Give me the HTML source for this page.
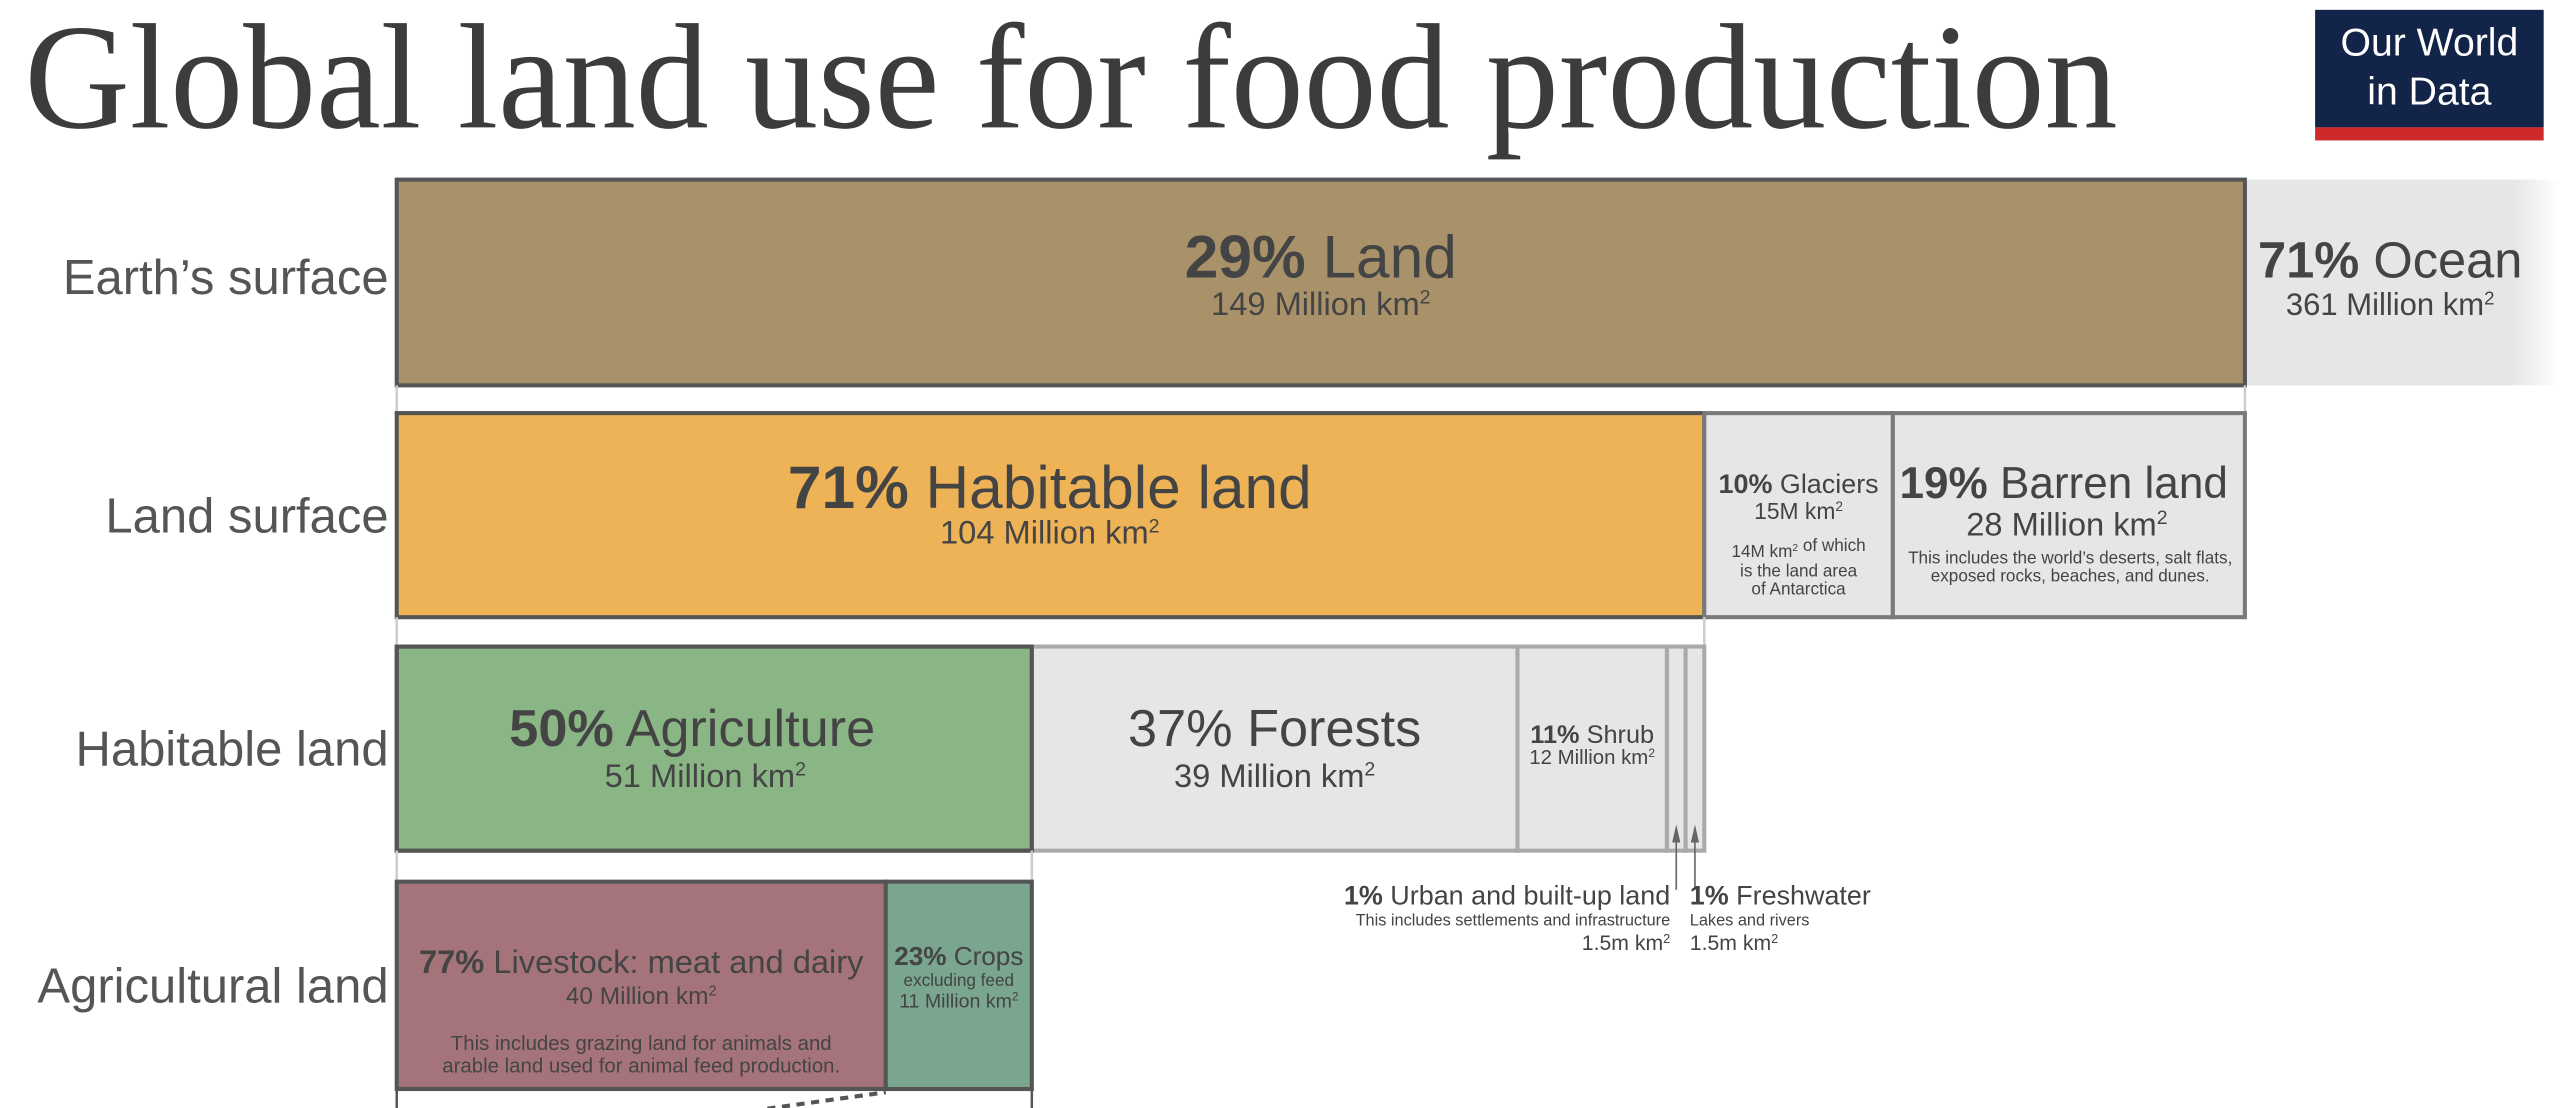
<!DOCTYPE html>
<html><head><meta charset="utf-8"><style>
html,body{margin:0;padding:0;background:#fff;}
svg{display:block;font-family:"Liberation Sans",Arial,sans-serif;}
</style></head><body>
<svg id="chart" width="2560" height="1108" viewBox="0 0 1568 678.6" xmlns="http://www.w3.org/2000/svg">
<defs>
<linearGradient id="oceanFade" x1="0" x2="1" y1="0" y2="0">
<stop offset="0" stop-color="#e6e6e8"/><stop offset="0.85" stop-color="#e6e6e8"/><stop offset="1" stop-color="#ffffff"/>
</linearGradient>
<linearGradient id="lineFade" x1="0" x2="1" y1="0" y2="0">
<stop offset="0" stop-color="#666"/><stop offset="0.8" stop-color="#666"/><stop offset="1" stop-color="#fff"/>
</linearGradient>
</defs>
<text x="15" y="78" font-family="Liberation Serif,serif" font-size="92" fill="#3c3c3c" textLength="1282" lengthAdjust="spacingAndGlyphs">Global land use for food production</text>
<g>
<rect x="1418" y="6" width="140" height="72" fill="#122549"/>
<rect x="1418" y="78" width="140" height="8" fill="#ce2a2a"/>
<text x="1488" y="34" text-anchor="middle" font-size="24" fill="#fff">Our World</text>
<text x="1488" y="64" text-anchor="middle" font-size="24" fill="#fff">in Data</text>
</g>
<g id="marks"></g>
<g id="labels" fill="#444"></g>
</svg>
<script>
// Data (areas in million km² / percentages)
const rowNames = ["Earth’s surface", "Land surface", "Habitable land", "Agricultural land"];
const earthValues = [149, 361];
const landValues = [104, 15, 28];
const habitableValues = [51, 39, 12, 1.5, 1.5];
const agriValues = [77, 23];

const NS = "http://www.w3.org/2000/svg";
const marks = document.getElementById("marks");
const labels = document.getElementById("labels");
function mk(tag, attrs, parent) {
  const e = document.createElementNS(NS, tag);
  for (const k in attrs) e.setAttribute(k, attrs[k]);
  (parent || marks).appendChild(e);
  return e;
}
const X0 = 243, LANDW = 1132;
const rowY = [110, 253, 396, 540], rowH = [126, 125, 125, 127];
function seg(values, startX, parentW) {
  const tot = values.reduce((a, b) => a + b, 0);
  let x = startX; const out = [];
  values.forEach(v => { const w = parentW * v / tot; out.push([x, w]); x += w; });
  return out;
}
// Row 1
const landW = LANDW;
const oceanW = landW * earthValues[1] / earthValues[0];
const r1 = [[X0, landW], [X0 + landW, oceanW]];
let e;
e = mk("rect", {x: r1[1][0], y: rowY[0], width: Math.min(r1[1][1], 1568 - r1[1][0]), height: rowH[0], fill: "url(#oceanFade)"});


mk("line", {x1: r1[1][0], x2: 1568, y1: rowY[0], y2: rowY[0], stroke: "url(#lineFade)", "stroke-width": 2.5});
mk("line", {x1: r1[1][0], x2: 1568, y1: rowY[0] + rowH[0], y2: rowY[0] + rowH[0], stroke: "url(#lineFade)", "stroke-width": 2.5});
e = mk("rect", {x: r1[0][0], y: rowY[0], width: r1[0][1], height: rowH[0], fill: "#a9926a", stroke: "#555", "stroke-width": 2.5});


mk("polyline", {points: `${X0},${rowY[0]+rowH[0]} ${X0},${rowY[1]} ${X0+landW},${rowY[1]} ${X0+landW},${rowY[0]+rowH[0]}`, fill: "none", stroke: "#ccc", "stroke-width": 1.5});
// Row 2
const r2 = seg(landValues, X0, landW);
const r2fill = ["#eeb257", "#e6e6e8", "#e6e6e8"];
const r2names = ["habitable-land-bar", "glaciers-bar", "barren-land-bar"];
r2.forEach((s, i) => {
  const el = mk("rect", {x: s[0], y: rowY[1], width: s[1], height: rowH[1], fill: r2fill[i], stroke: i ? "#7a7a7a" : "#555", "stroke-width": 2.5});
  
  
});
const habW = r2[0][1];
mk("polyline", {points: `${X0},${rowY[1]+rowH[1]} ${X0},${rowY[2]} ${X0+habW},${rowY[2]} ${X0+habW},${rowY[1]+rowH[1]}`, fill: "none", stroke: "#ccc", "stroke-width": 1.5});
// Row 3
const r3 = seg(habitableValues, X0, habW);
const r3fill = ["#8ab584", "#e6e6e8", "#e6e6e8", "#e6e6e8", "#e6e6e8"];
const r3names = ["agriculture-bar", "forests-bar", "shrub-bar", "urban-bar", "freshwater-bar"];
r3.forEach((s, i) => {
  const el = mk("rect", {x: s[0], y: rowY[2], width: s[1], height: rowH[2], fill: r3fill[i], stroke: i ? "#aaa" : "#555", "stroke-width": 2.5});
  
  
});
mk("rect", {x: r3[0][0], y: rowY[2], width: r3[0][1], height: rowH[2], fill: "none", stroke: "#555", "stroke-width": 2.5});
const agW = r3[0][1];
mk("polyline", {points: `${X0},${rowY[2]+rowH[2]} ${X0},${rowY[3]} ${X0+agW},${rowY[3]} ${X0+agW},${rowY[2]+rowH[2]}`, fill: "none", stroke: "#ccc", "stroke-width": 1.5});
[3, 4].forEach(i => {
  const cx = r3[i][0] + r3[i][1] / 2;
  mk("line", {x1: cx, x2: cx, y1: 545, y2: 510, stroke: "#666", "stroke-width": 1});
  mk("polygon", {points: `${cx-2.5},${516} ${cx+2.5},${516} ${cx},${505}`, fill: "#666"});
});
// Row 4
const r4 = seg(agriValues, X0, agW);
const r4fill = ["#a5737a", "#7aa58e"];
const r4names = ["livestock-bar", "crops-bar"];
r4.forEach((s, i) => {
  const el = mk("rect", {x: s[0], y: rowY[3], width: s[1], height: rowH[3], fill: r4fill[i], stroke: "#555", "stroke-width": 2.5});
  
  
});
mk("line", {x1: X0, x2: X0, y1: rowY[3]+rowH[3], y2: 679, stroke: "#555", "stroke-width": 1.5});
mk("line", {x1: X0+agW, x2: X0+agW, y1: rowY[3]+rowH[3], y2: 679, stroke: "#555", "stroke-width": 1.5});
mk("line", {x1: 470, y1: 679, x2: r4[1][0], y2: rowY[3]+rowH[3]+2, stroke: "#555", "stroke-width": 2.5, "stroke-dasharray": "5,4"});

function txt(x, y, size, parts, anchor, name) {
  const t = mk("text", {x: x, y: y, "font-size": size, "text-anchor": anchor || "middle"}, labels);
  
  
  parts.forEach(p => {
    const s = document.createElementNS(NS, "tspan");
    if (p.b) s.setAttribute("font-weight", "bold");
    if (p.sup) { s.setAttribute("font-size", size * 0.6); s.setAttribute("dy", -size * 0.35); }
    s.textContent = p.t;
    t.appendChild(s);
  });
  return t;
}
const rowLabelY = [180, 326, 469, 614];
rowNames.forEach((n, i) => {
  const t = mk("text", {x: 238, y: rowLabelY[i], "font-size": 30, "text-anchor": "end", fill: "#555"}, labels);
  t.textContent = n;
  
  
});
const c = s => s[0] + s[1] / 2;
txt(c(r1[0]), 170, 37, [{t: "29%", b: 1}, {t: " Land"}], "middle", "land-label");
txt(c(r1[0]), 193, 20, [{t: "149 Million km"}, {t: "2", sup: 1}], "middle", "land-area");
txt(1464, 170, 31, [{t: "71%", b: 1}, {t: " Ocean"}], "middle", "ocean-label");
txt(1464, 193, 19, [{t: "361 Million km"}, {t: "2", sup: 1}], "middle", "ocean-area");
txt(643, 311, 37, [{t: "71%", b: 1}, {t: " Habitable land"}], "middle", "habitable-label");
txt(643, 333, 20, [{t: "104 Million km"}, {t: "2", sup: 1}], "middle", "habitable-area");
txt(c(r2[1]), 302, 16.5, [{t: "10%", b: 1}, {t: " Glaciers"}], "middle", "glaciers-label");
txt(c(r2[1]), 318, 14, [{t: "15M km"}, {t: "2", sup: 1}], "middle", "glaciers-area");
txt(c(r2[1]), 341, 10.5, [{t: "14M km"}, {t: "2", sup: 1}, {t: " of which"}], "middle", "glaciers-note");
txt(c(r2[1]), 353, 10.5, [{t: "is the land area"}], "middle", "glaciers-note");
txt(c(r2[1]), 364, 10.5, [{t: "of Antarctica"}], "middle", "glaciers-note");
txt(1264, 305, 27, [{t: "19%", b: 1}, {t: " Barren land"}], "middle", "barren-label");
txt(1266, 328, 20, [{t: "28 Million km"}, {t: "2", sup: 1}], "middle", "barren-area");
txt(1268, 345, 10.5, [{t: "This includes the world’s deserts, salt flats,"}], "middle", "barren-note");
txt(1268, 356, 10.5, [{t: "exposed rocks, beaches, and dunes."}], "middle", "barren-note");
txt(424, 457, 32, [{t: "50%", b: 1}, {t: " Agriculture"}], "middle", "agriculture-label");
txt(432, 482, 20, [{t: "51 Million km"}, {t: "2", sup: 1}], "middle", "agriculture-area");
txt(c(r3[1]), 457, 32, [{t: "37% Forests"}], "middle", "forests-label");
txt(c(r3[1]), 482, 20, [{t: "39 Million km"}, {t: "2", sup: 1}], "middle", "forests-area");
txt(c(r3[2]), 455, 15.5, [{t: "11%", b: 1}, {t: " Shrub"}], "middle", "shrub-label");
txt(c(r3[2]), 468, 12.5, [{t: "12 Million km"}, {t: "2", sup: 1}], "middle", "shrub-area");
txt(1023, 554, 16.5, [{t: "1%", b: 1}, {t: " Urban and built-up land"}], "end", "urban-label");
txt(1023, 567, 10, [{t: "This includes settlements and infrastructure"}], "end", "urban-note");
txt(1023, 582, 13, [{t: "1.5m km"}, {t: "2", sup: 1}], "end", "urban-area");
txt(1035, 554, 16.5, [{t: "1%", b: 1}, {t: " Freshwater"}], "start", "freshwater-label");
txt(1035, 567, 10, [{t: "Lakes and rivers"}], "start", "freshwater-note");
txt(1035, 582, 13, [{t: "1.5m km"}, {t: "2", sup: 1}], "start", "freshwater-area");
txt(c(r4[0]), 596, 20, [{t: "77%", b: 1}, {t: " Livestock: meat and dairy"}], "middle", "livestock-label");
txt(c(r4[0]), 615, 15, [{t: "40 Million km"}, {t: "2", sup: 1}], "middle", "livestock-area");
txt(c(r4[0]), 643, 12.5, [{t: "This includes grazing land for animals and"}], "middle", "livestock-note");
txt(c(r4[0]), 657, 12.5, [{t: "arable land used for animal feed production."}], "middle", "livestock-note");
txt(c(r4[1]), 591, 16, [{t: "23%", b: 1}, {t: " Crops"}], "middle", "crops-label");
txt(c(r4[1]), 604, 10.5, [{t: "excluding feed"}], "middle", "crops-note");
txt(c(r4[1]), 617, 12, [{t: "11 Million km"}, {t: "2", sup: 1}], "middle", "crops-area");
</script>
</body></html>
